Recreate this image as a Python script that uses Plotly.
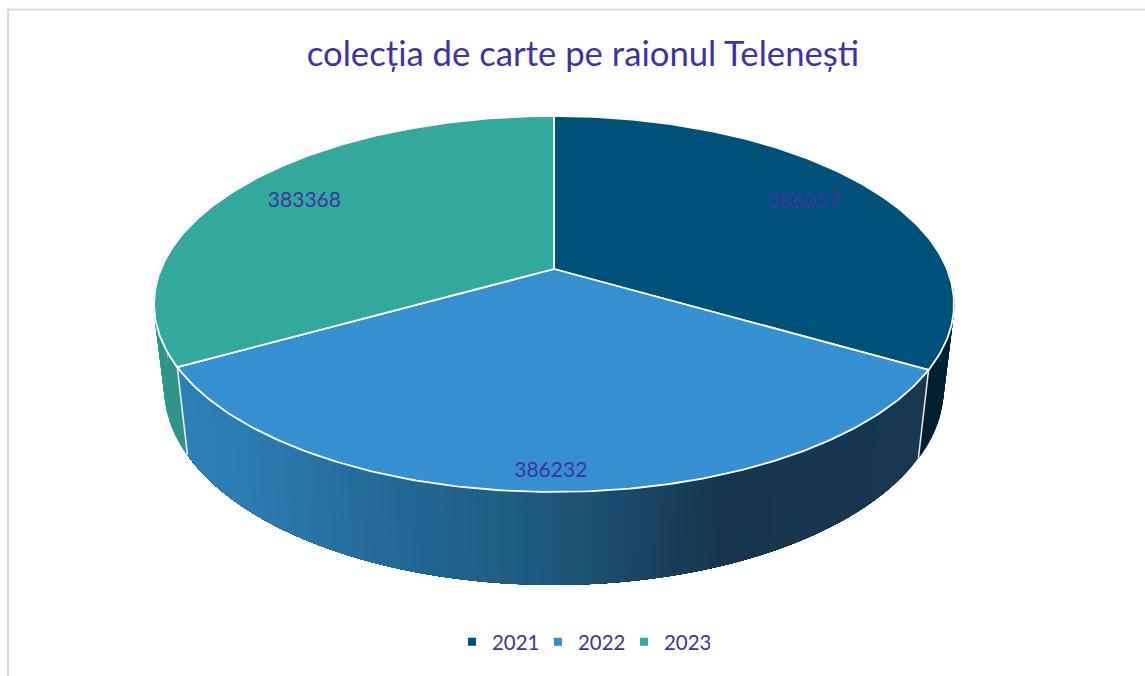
import numpy as np
import plotly.graph_objects as go

TITLE = "colecția de carte pe raionul Telenești"
YEARS = ["2021", "2022", "2023"]
VALUES = [386057, 386232, 383368]
TOP_COLORS = ["#00517a", "#358fd0", "#33a99e"]
SIDE_COLORS = ["#01202f", None, "#2e9488"]
TEXT = "#3f33a3"
FRAME = "#d9d6ef"

# Projection of the tilted disc
CX, CY, A, B, K = 554, 269, 393, 181.5, 0.186
LABEL_R = [0.787, 0.925, 0.79]


def top(theta, r=1.0):
    u, v = r * np.sin(theta), -r * np.cos(theta)
    d = 1 - K * v
    return CX + A * u / d, CY + B * v / d


def bottom(theta):
    x, y = top(theta)
    return CX + 0.973 * (x - CX), 353 + 1.04 * (y - CY)


def mix(stops, x):
    xs = [s[0] for s in stops]
    rgb = [np.interp(x, xs, [s[1][i] for s in stops]) for i in range(3)]
    return "rgb(%d,%d,%d)" % tuple(int(round(c)) for c in rgb)


GRAD = [(186, (47, 128, 184)), (260, (44, 122, 176)), (400, (37, 104, 148)),
        (554, (30, 88, 126)), (720, (21, 54, 78)), (920, (23, 56, 80))]

total = sum(VALUES)
edges = np.concatenate([[0], np.cumsum(VALUES) / total * 2 * np.pi])
fig = go.Figure()


def poly(x, y, fill, line, width):
    fig.add_trace(go.Scatter(x=x, y=y, mode="lines", fill="toself", fillcolor=fill,
                             line=dict(color=line, width=width), showlegend=False,
                             hoverinfo="skip"))


def quads(theta):
    """Union of wall quads, so that the outline follows the tangent of both arcs."""
    xs, ys = [], []
    for a, b in zip(theta[:-1], theta[1:]):
        th = np.array([a, b])
        tx, ty = top(th)
        bx, by = bottom(th)
        xs += list(np.r_[tx, bx[::-1], tx[0]]) + [None]
        ys += list(np.r_[ty, by[::-1], ty[0]]) + [None]
    return xs, ys


# Side walls, front part only
for th, col in ((np.linspace(np.radians(80), edges[1], 30), SIDE_COLORS[0]),
                (np.linspace(edges[2], np.radians(280), 30), SIDE_COLORS[2])):
    x, y = quads(th)
    poly(x, y, col, col, 1)

# Front wall: painted from right to left, each piece running to the far end
strips = np.linspace(edges[1], edges[2], 130)
for a in strips[:-1]:
    th = np.linspace(a, edges[2], 40)
    tx, ty = top(th)
    bx, by = bottom(th)
    c = mix(GRAD, bx[0])
    poly(np.r_[tx, bx[::-1]], np.r_[ty, by[::-1]], c, "rgba(0,0,0,0)", 0)

for e in edges[1:3]:
    tx, ty = top(e)
    bx, by = bottom(e)
    fig.add_trace(go.Scatter(x=[tx, bx], y=[ty, by], mode="lines",
                             line=dict(color="rgba(255,255,255,0.9)", width=1.5),
                             showlegend=False, hoverinfo="skip"))

# Top face
for i in range(3):
    th = np.linspace(edges[i], edges[i + 1], 160)
    x, y = top(th)
    poly(np.r_[CX, x, CX], np.r_[CY, y, CY], TOP_COLORS[i], "#ffffff", 1.8)

# Data labels
for i, v in enumerate(VALUES):
    x, y = top((edges[i] + edges[i + 1]) / 2, LABEL_R[i])
    fig.add_trace(go.Scatter(x=[x], y=[y], mode="text", text=[str(v)],
                             textposition="middle center",
                             textfont=dict(family="Lato", size=21, color=TEXT),
                             showlegend=False, hoverinfo="skip"))

# Legend entries
for i, name in enumerate(YEARS):
    fig.add_trace(go.Scatter(x=[None], y=[None], mode="markers", name=name,
                             marker=dict(symbol="square", size=8, color=TOP_COLORS[i])))

fig.update_layout(
    width=1145, height=676, margin=dict(l=0, r=0, t=0, b=0),
    paper_bgcolor="white", plot_bgcolor="white",
    title=dict(text=TITLE, x=583 / 1145, xanchor="center", y=1 - 54 / 676, yanchor="middle",
               font=dict(family="Lato", size=34.7, color=TEXT)),
    xaxis=dict(range=[0, 1145], visible=False, fixedrange=True),
    yaxis=dict(range=[676, 0], visible=False, fixedrange=True),
    legend=dict(orientation="h", x=581 / 1145, xanchor="center", y=1 - 642 / 676, yanchor="middle",
                entrywidth=41, entrywidthmode="pixels",
                font=dict(family="Lato", size=20.4, color=TEXT), bgcolor="rgba(0,0,0,0)"),
    shapes=[
        dict(type="line", xref="paper", yref="paper", x0=8 / 1145, x1=1, y0=1 - 9.5 / 676, y1=1 - 9.5 / 676,
             line=dict(color=FRAME, width=2)),
        dict(type="line", xref="paper", yref="paper", x0=8 / 1145, x1=8 / 1145, y0=1 - 9 / 676, y1=0,
             line=dict(color=FRAME, width=2)),
    ],
)

fig.write_html("out.html", config={"displayModeBar": False},
               post_script="document.body.style.margin='0';")
